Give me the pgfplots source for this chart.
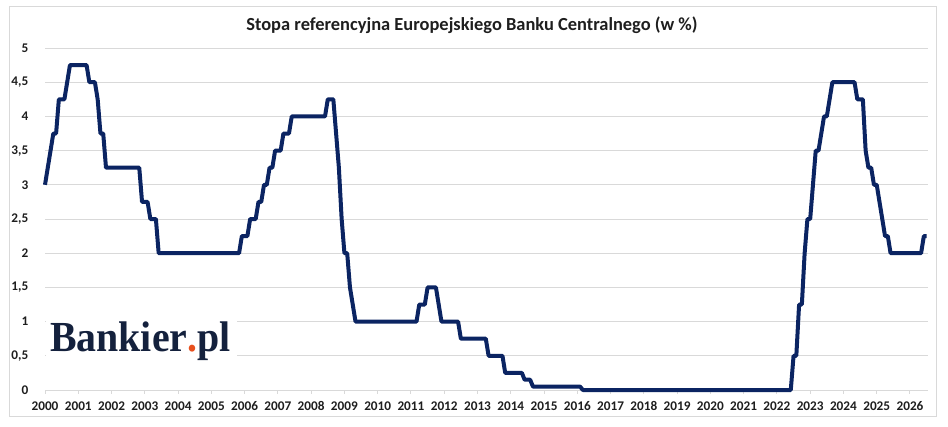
\documentclass[border=0pt]{standalone}
\usepackage{pgfplots}
\pgfplotsset{compat=1.18}
\usepackage{pgfplotstable}
\usepackage{fontspec}
\setmainfont{Carlito}
\newfontfamily\logofont{Liberation Serif}
\definecolor{navy}{HTML}{0B2462}
\definecolor{gridc}{HTML}{D9D9D9}
\definecolor{txt}{HTML}{1E1E1E}
\definecolor{logoblue}{HTML}{14213D}
\definecolor{logoorange}{HTML}{E8501E}
\pgfplotstableread{
m v
0 3.00
1 3.25
2 3.50
3 3.75
4 3.75
5 4.25
7 4.25
8 4.50
9 4.75
15 4.75
16 4.50
18 4.50
19 4.25
20 3.75
21 3.75
22 3.25
34 3.25
35 2.75
37 2.75
38 2.50
40 2.50
41 2.00
70 2.00
71 2.25
73 2.25
74 2.50
76 2.50
77 2.75
78 2.75
79 3.00
80 3.00
81 3.25
82 3.25
83 3.50
85 3.50
86 3.75
88 3.75
89 4.00
101 4.00
102 4.25
104 4.25
105 3.75
106 3.25
107 2.50
108 2.00
109 2.00
110 1.50
111 1.25
112 1.00
134 1.00
135 1.25
137 1.25
138 1.50
141 1.50
142 1.25
143 1.00
149 1.00
150 0.75
159 0.75
160 0.50
165 0.50
166 0.25
172 0.25
173 0.15
175 0.15
176 0.05
193 0.05
194 0.00
269 0.00
270 0.50
271 0.50
272 1.25
273 1.25
274 2.00
275 2.50
276 2.50
277 3.00
278 3.50
279 3.50
280 3.75
281 4.00
282 4.00
283 4.25
284 4.50
292 4.50
293 4.25
295 4.25
296 3.50
297 3.25
298 3.25
299 3.00
300 3.00
301 2.75
302 2.50
303 2.25
304 2.25
305 2.00
316 2.00
317 2.25
318 2.25
}\ecbrate
\begin{document}
\begin{tikzpicture}[x=1bp,y=1bp]
\path[use as bounding box] (0,0) rectangle (948,426);
\draw[gridc, line width=1bp] (9.5,9.5) rectangle (936.5,419);
\node[font=\bfseries\fontsize{18.5}{18.5}\selectfont, text=txt, anchor=base] at (472,395.5) {Stopa referencyjna Europejskiego Banku Centralnego (w \%)};
\begin{axis}[
  at={(45bp,36bp)}, anchor=south west,
  scale only axis, width=883bp, height=342bp,
  xmin=0, xmax=318.5, ymin=0, ymax=5,
  clip=false,
  axis line style={draw=none},
  ymajorgrids, grid style={gridc, line width=1bp},
  ytick={0,0.5,...,5},
  yticklabels={0,{0,5},1,{1,5},2,{2,5},3,{3,5},4,{4,5},5},
  xtick={0,12,...,312},
  xticklabels={2000,2001,2002,2003,2004,2005,2006,2007,2008,2009,2010,2011,2012,2013,2014,2015,2016,2017,2018,2019,2020,2021,2022,2023,2024,2025,2026},
  xtick pos=bottom, tick align=outside, major tick length=3.5bp,
  xtick style={draw=gridc, line width=1bp},
  ytick style={draw=none},
  tick label style={font=\bfseries\fontsize{13.3}{13.3}\selectfont, text=txt},
  yticklabel style={anchor=east, inner sep=0pt, xshift=-13bp},
  xticklabel style={anchor=north, inner sep=0pt, yshift=-8bp},
]
\addplot[navy, line width=4bp, line join=round, line cap=butt] table[x=m, y=v] {\ecbrate};
\end{axis}
\fill[white] (45.5,56) rectangle (237,118);
\node[anchor=base west, inner sep=0pt, text=logoblue] at (50,75) {\scalebox{0.93}[1]{\logofont\bfseries\fontsize{43}{43}\selectfont Bankier\textcolor{logoorange}{.}pl}};
\end{tikzpicture}
\end{document}
